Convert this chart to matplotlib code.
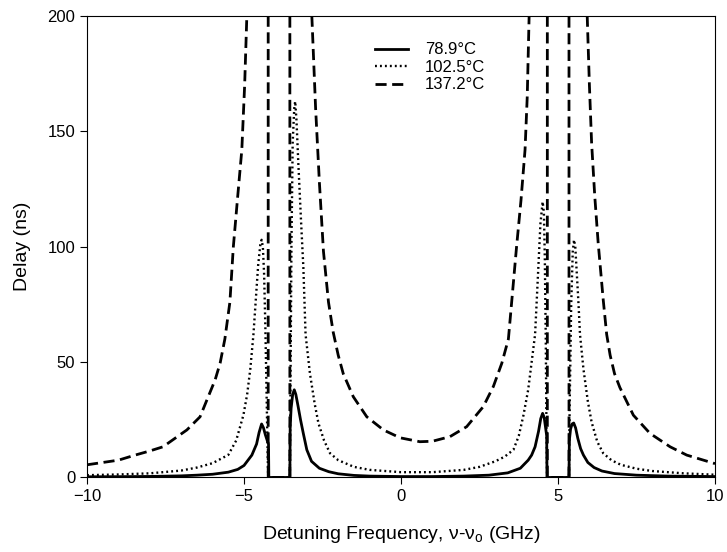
import matplotlib
matplotlib.use("Agg")
import matplotlib.pyplot as plt

plt.rcParams['font.family'] = ['Liberation Sans', 'DejaVu Sans']

# values (GHz, ns); 400 = off the top of the chart
x_low = [-10, -9, -8, -7, -6.5, -6, -5.5, -5.2, -5.0, -4.75, -4.6, -4.52, -4.44, -4.38, -4.32,
         -4.26, -4.22, -4.21, -3.54, -3.53, -3.5, -3.45, -3.40, -3.35, -3.28, -3.2, -3.11, -3.0,
         -2.85, -2.6, -2.3, -2.0, -1.5, -1.0, 0, 1, 2, 2.8, 3.4, 3.8, 4.05, 4.16, 4.27, 4.38,
         4.45, 4.51, 4.56, 4.6, 4.64, 4.65, 5.35, 5.36, 5.4, 5.45, 5.5, 5.56, 5.63, 5.72, 5.81,
         5.95, 6.15, 6.4, 6.8, 7.5, 8.5, 10]
y_low = [0.3, 0.35, 0.45, 0.7, 1.0, 1.4, 2.3, 3.5, 5.2, 9.7, 14.5, 19.5, 23.2, 21.5, 18.5,
         16.0, 14.5, 0, 0, 22, 30, 36, 38, 36, 31, 25, 19, 12,
         7.0, 4.0, 2.5, 1.6, 0.9, 0.6, 0.4, 0.4, 0.6, 1.0, 2.0, 4.0, 7.5, 9.7, 13.3, 20,
         25.5, 27.8, 26, 22, 18, 0, 0, 16, 21, 23.2, 23.6, 21.5, 17, 12.5, 9.7,
         6.5, 4.3, 2.8, 1.7, 1.0, 0.6, 0.4]

x_mid = [-10, -9, -8, -7, -6.5, -6, -5.5, -5.25, -5.02, -4.9, -4.8, -4.7, -4.62, -4.55, -4.48,
         -4.44, -4.40, -4.36, -4.32, -4.28, -4.25, -4.23, -3.54, -3.52, -3.49, -3.45, -3.40,
         -3.37, -3.33, -3.27, -3.18, -3.11, -3.04, -2.9, -2.75, -2.63, -2.45, -2.26, -2.0, -1.5,
         -1.0, 0, 1, 2, 2.5, 3.0, 3.3, 3.58, 3.75, 3.9, 4.05, 4.16, 4.27, 4.37, 4.44, 4.51,
         4.55, 4.58, 4.61, 4.63, 4.65, 5.35, 5.37, 5.42, 5.47, 5.51, 5.55, 5.6, 5.65, 5.7, 5.81,
         5.95, 6.07, 6.25, 6.44, 6.7, 7.0, 7.5, 8, 9, 10]
y_mid = [1.0, 1.3, 1.8, 3.0, 4.3, 6.2, 9.8, 16, 27, 36, 47, 62, 78, 92, 101,
         103, 100, 88, 65, 35, 12, 0, 0, 40, 100, 145, 160,
         163, 155, 136, 110, 91, 62, 45, 32, 23.5, 16, 10.5, 7.5, 4.6,
         3.3, 2.3, 2.3, 3.3, 4.6, 7.0, 9.0, 12, 18, 27, 38, 50, 62, 90, 110, 119.5,
         115, 95, 60, 25, 0, 0, 30, 75, 98, 103, 100, 88, 76, 62, 47,
         33, 24, 15.5, 10.5, 7.5, 5.5, 3.8, 2.8, 1.8, 1.2]

x_high = [-10, -9, -8.47, -8, -7.58, -7.04, -6.82, -6.4, -6.14, -5.92, -5.76, -5.61, -5.45, -5.34,
          -5.2, -5.07, -4.98, -4.91, -4.85, -4.23, -4.23, -3.54, -3.54, -2.9, -2.84, -2.72, -2.6,
          -2.47, -2.31, -2.16, -2.0, -1.84, -1.52, -1.09, -0.56, -0.03, 0.6, 1.0, 1.56, 2.09,
          2.62, 2.94, 3.21, 3.42, 3.68, 3.82, 3.95, 4.02, 4.08, 4.15, 4.66, 4.66, 5.35, 5.35,
          5.86, 5.93, 6.0, 6.07, 6.17, 6.28, 6.44, 6.55, 6.66, 6.8, 6.97, 7.4, 7.93, 8.57, 9.1,
          10]
y_high = [5.5, 7.5, 9.7, 11.5, 13.3, 18.5, 20.6, 26.3, 35, 42.3, 49.6, 60, 76, 100,
          122, 142, 170, 200, 260, 400, 0, 0, 400, 260, 200, 160, 128,
          98, 76, 63, 53, 45, 35, 26.3, 20.6, 17.2, 15.5, 15.7, 17.7, 22,
          30.7, 39.4, 49.5, 60, 100, 120, 142, 165, 200, 260, 400, 0, 0, 400,
          260, 200, 170, 145, 122, 101.5, 77, 62, 53, 45, 39, 27, 19.1, 13.3, 9.7,
          6]

labels = ["78.9°C", "102.5°C", "137.2°C"]

fig = plt.figure(figsize=(7.27, 5.52), dpi=100)
ax = fig.add_axes([0.1197, 0.135, 0.8638, 0.836])

ax.plot(x_low, y_low, color="black", lw=2.0, ls="-", label=labels[0])
ax.plot(x_mid, y_mid, color="black", lw=1.7, ls=(0, (0.8, 1.3)), label=labels[1])
ax.plot(x_high, y_high, color="black", lw=2.0, ls=(0, (4, 2)), label=labels[2])

ax.set_xlim(-10, 10)
ax.set_ylim(0, 200)
ax.set_xticks([-10, -5, 0, 5, 10])
ax.set_yticks([0, 50, 100, 150, 200])
ax.tick_params(direction="out", length=5, labelsize=12, top=False, right=False)
ax.set_xlabel(r"Detuning Frequency, ν-ν$_\mathregular{o}$ (GHz)", fontsize=14, labelpad=14)
ax.set_ylabel("Delay (ns)", fontsize=14, labelpad=12)

ax.legend(loc="upper left", bbox_to_anchor=(0.44, 0.968), frameon=False, fontsize=12,
          handlelength=2.0, handletextpad=1.0, labelspacing=0.15, borderpad=0.2)

fig.savefig("out.png", dpi=100)
